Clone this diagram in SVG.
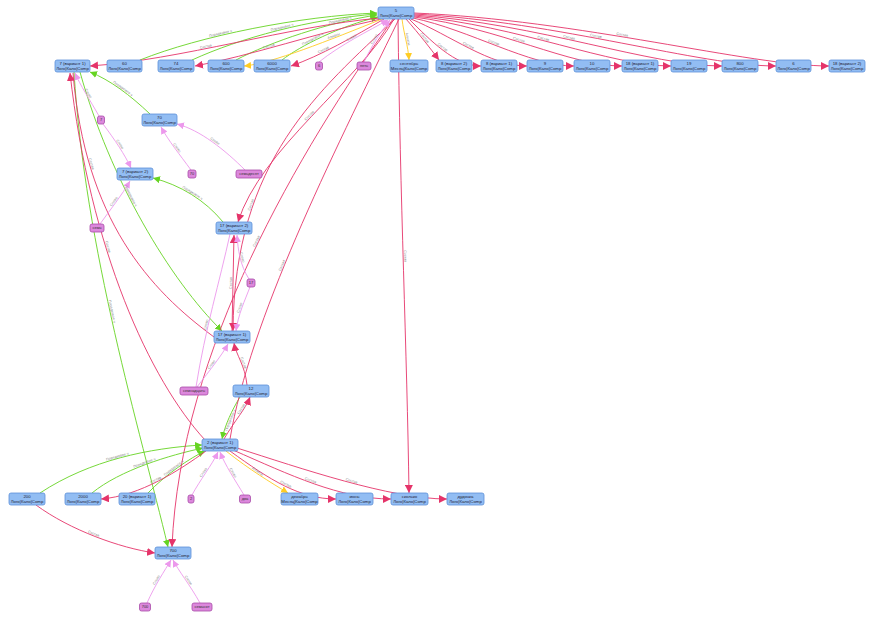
<svg xmlns="http://www.w3.org/2000/svg" width="872" height="626" viewBox="0 0 872 626">
<style>
.bg{fill:#ffffff}
.n rect{fill:#92bdf3;stroke:#5d90d8;stroke-width:0.8}
.n text{font-family:"Liberation Sans",Arial,sans-serif;font-size:4.3px;fill:#223;text-anchor:middle}
.p rect{fill:#dc88dc;stroke:#a84ca8;stroke-width:0.8}
.p text{font-family:"Liberation Sans",Arial,sans-serif;font-size:4px;fill:#333;text-anchor:middle}
.e path{fill:none;stroke-width:0.9}
.r{stroke:#e5346a}
.g{stroke:#66d422}
.y{stroke:#ffcc22}
.v{stroke:#ec98ec}
.lbl{font-family:"Liberation Sans",Arial,sans-serif;font-size:3.6px;fill:#888;text-anchor:middle}
</style>
<defs>
<marker id="ar" viewBox="0 0 10 10" refX="10" refY="5" markerWidth="8" markerHeight="8" markerUnits="userSpaceOnUse" orient="auto-start-reverse"><path d="M0,0 L10,5 L0,10 z" fill="#e5346a"/></marker>
<marker id="ag" viewBox="0 0 10 10" refX="10" refY="5" markerWidth="7" markerHeight="7" markerUnits="userSpaceOnUse" orient="auto-start-reverse"><path d="M0,0 L10,5 L0,10 z" fill="#66d422"/></marker>
<marker id="ay" viewBox="0 0 10 10" refX="10" refY="5" markerWidth="7" markerHeight="7" markerUnits="userSpaceOnUse" orient="auto-start-reverse"><path d="M0,0 L10,5 L0,10 z" fill="#ffcc22"/></marker>
<marker id="av" viewBox="0 0 10 10" refX="10" refY="5" markerWidth="7" markerHeight="7" markerUnits="userSpaceOnUse" orient="auto-start-reverse"><path d="M0,0 L10,5 L0,10 z" fill="#ec98ec"/></marker>
</defs>
<rect class="bg" x="0" y="0" width="872" height="626"/>
<g id="connectors" class="e">
<path id="e1" class="g" d="M140,60 C200,36 300,16 377,13" marker-end="url(#ag)"/>
<path id="e2" class="g" d="M192,60 C240,38 310,19 377,14" marker-end="url(#ag)"/>
<path id="e3" class="g" d="M236,60 C270,42 330,22 377,15" marker-end="url(#ag)"/>
<path id="e4" class="g" d="M282,60 C300,46 340,26 378,17" marker-end="url(#ag)"/>
<path id="e5" class="g" d="M90,72 C110,80 130,95 150,114" marker-start="url(#ag)"/>
<path id="e6" class="g" d="M153,178 C180,185 205,200 223,222" marker-start="url(#ag)"/>
<path id="e7" class="g" d="M80,72 C110,180 170,280 222,331" marker-end="url(#ag)"/>
<path id="e8" class="g" d="M74,72 C85,250 140,430 168,547" marker-end="url(#ag)"/>
<path id="e9" class="g" d="M40,493 C90,460 150,448 202,445" marker-end="url(#ag)"/>
<path id="e10" class="g" d="M92,493 C120,470 170,455 203,448" marker-end="url(#ag)"/>
<path id="e11" class="g" d="M148,493 C165,475 190,458 205,451" marker-end="url(#ag)"/>
<path id="e12" class="g" d="M222,439 C225,425 232,410 240,397" marker-start="url(#ag)"/>
<path id="e13" class="r" d="M90,66 C180,60 290,26 380,18" marker-start="url(#ar)"/>
<path id="e14" class="r" d="M195,66 C250,56 320,32 381,19" marker-start="url(#ar)"/>
<path id="e15" class="r" d="M291,66 C320,56 355,36 384,19" marker-start="url(#ar)"/>
<path id="e16" class="r" d="M406,19 C420,35 430,48 439,60" marker-end="url(#ar)"/>
<path id="e17" class="r" d="M409,19 C430,40 455,66 481,66" marker-end="url(#ar)"/>
<path id="e18" class="r" d="M411,19 C450,35 490,66 527,66" marker-end="url(#ar)"/>
<path id="e19" class="r" d="M413,18 C470,30 530,66 574,66" marker-end="url(#ar)"/>
<path id="e20" class="r" d="M414,17 C500,28 570,66 622,66" marker-end="url(#ar)"/>
<path id="e21" class="r" d="M414,16 C520,26 610,66 671,66" marker-end="url(#ar)"/>
<path id="e22" class="r" d="M414,15 C540,24 650,66 722,66" marker-end="url(#ar)"/>
<path id="e23" class="r" d="M414,14 C560,22 700,66 776,66" marker-end="url(#ar)"/>
<path id="e24" class="r" d="M414,13 C580,20 750,66 829,66" marker-end="url(#ar)"/>
<path id="e25" class="r" d="M238,222 C260,150 360,80 394,19" marker-start="url(#ar)"/>
<path id="e26" class="r" d="M233,331 C234,160 320,90 395,19" marker-start="url(#ar)"/>
<path id="e27" class="r" d="M172,547 C180,350 300,150 393,19" marker-start="url(#ar)"/>
<path id="e28" class="r" d="M398,19 C400,200 407,350 409,493" marker-end="url(#ar)"/>
<path id="e29" class="r" d="M230,439 C250,320 330,160 399,19"/>
<path id="e30" class="r" d="M232,331 L234,235" marker-end="url(#ar)"/>
<path id="e31" class="r" d="M234,343 C236,355 245,365 247,385" marker-start="url(#ar)"/>
<path id="e32" class="r" d="M224,439 C235,420 245,410 250,397" marker-end="url(#ar)"/>
<path id="e33" class="r" d="M70,73 C90,250 150,380 205,440" marker-start="url(#ar)"/>
<path id="e34" class="r" d="M73,73 C85,220 150,290 214,337"/>
<path id="e35" class="r" d="M101,499 C140,496 180,470 206,451" marker-start="url(#ar)"/>
<path id="e36" class="r" d="M36,505 C70,530 120,548 155,553" marker-end="url(#ar)"/>
<path id="e37" class="r" d="M230,451 C270,480 300,499 336,499" marker-end="url(#ar)"/>
<path id="e38" class="r" d="M233,450 C290,475 340,499 391,499" marker-end="url(#ar)"/>
<path id="e39" class="r" d="M237,448 C300,468 390,499 447,499" marker-end="url(#ar)"/>
<path id="e40" class="y" d="M244,66 C270,64 330,40 382,19" marker-start="url(#ay)"/>
<path id="e41" class="y" d="M402,19 C404,35 408,45 409,60" marker-end="url(#ay)"/>
<path id="e42" class="y" d="M226,451 C250,470 270,482 288,493" marker-end="url(#ay)"/>
<path id="e43" class="v" d="M319,62 C340,45 370,30 388,20" marker-end="url(#av)"/>
<path id="e44" class="v" d="M364,62 C372,45 382,30 390,20" marker-end="url(#av)"/>
<path id="e45" class="v" d="M75,73 C80,85 90,100 99,116" marker-start="url(#av)"/>
<path id="e46" class="v" d="M103,124 C115,140 125,155 131,168" marker-end="url(#av)"/>
<path id="e47" class="v" d="M100,224 C110,210 122,195 130,181" marker-end="url(#av)"/>
<path id="e48" class="v" d="M161,127 C168,140 180,155 191,170" marker-start="url(#av)"/>
<path id="e49" class="v" d="M177,124 C200,130 225,150 245,170" marker-start="url(#av)"/>
<path id="e50" class="v" d="M237,235 C238,250 240,265 249,279" marker-start="url(#av)"/>
<path id="e51" class="v" d="M236,331 C238,315 245,300 250,287" marker-start="url(#av)"/>
<path id="e52" class="v" d="M197,387 C210,370 222,355 228,344" marker-end="url(#av)"/>
<path id="e53" class="v" d="M196,387 C205,330 220,280 230,234"/>
<path id="e54" class="v" d="M192,495 C200,480 212,465 218,452" marker-end="url(#av)"/>
<path id="e55" class="v" d="M220,452 C225,465 235,480 244,495" marker-start="url(#av)"/>
<path id="e56" class="v" d="M147,603 C155,585 165,570 171,560" marker-end="url(#av)"/>
<path id="e57" class="v" d="M173,560 C178,570 190,585 200,603" marker-start="url(#av)"/>
</g>
<g id="edge-labels" class="lbl">
<text dy="-1"><textPath href="#e1" startOffset="35%">Порядковое ч</textPath></text>
<text dy="-1"><textPath href="#e2" startOffset="50%">Порядковое ч</textPath></text>
<text dy="-1"><textPath href="#e3" startOffset="75%">Порядковое ч</textPath></text>
<text dy="-1"><textPath href="#e4" startOffset="35%">Порядковое ч</textPath></text>
<text dy="-1"><textPath href="#e5" startOffset="50%">Порядковое ч</textPath></text>
<text dy="-1"><textPath href="#e6" startOffset="50%">Порядковое ч</textPath></text>
<text dy="-1"><textPath href="#e7" startOffset="45%">Порядковое ч</textPath></text>
<text dy="-1"><textPath href="#e8" startOffset="50%">Порядковое ч</textPath></text>
<text dy="-1"><textPath href="#e9" startOffset="50%">Порядковое ч</textPath></text>
<text dy="-1"><textPath href="#e10" startOffset="50%">Порядковое ч</textPath></text>
<text dy="-1"><textPath href="#e11" startOffset="50%">Порядковое ч</textPath></text>
<text dy="3"><textPath href="#e12" startOffset="45%">Порядковое ч</textPath></text>
<text dy="-1"><textPath href="#e13" startOffset="40%">Состав</textPath></text>
<text dy="-1"><textPath href="#e14" startOffset="40%">Состав</textPath></text>
<text dy="-1"><textPath href="#e15" startOffset="35%">Состав</textPath></text>
<text dy="-1"><textPath href="#e16" startOffset="50%">Состав</textPath></text>
<text dy="-1"><textPath href="#e17" startOffset="50%">Состав</textPath></text>
<text dy="-1"><textPath href="#e18" startOffset="50%">Состав</textPath></text>
<text dy="-1"><textPath href="#e19" startOffset="50%">Состав</textPath></text>
<text dy="-1"><textPath href="#e20" startOffset="50%">Состав</textPath></text>
<text dy="-1"><textPath href="#e21" startOffset="50%">Состав</textPath></text>
<text dy="-1"><textPath href="#e22" startOffset="50%">Состав</textPath></text>
<text dy="-1"><textPath href="#e23" startOffset="50%">Состав</textPath></text>
<text dy="-1"><textPath href="#e24" startOffset="50%">Состав</textPath></text>
<text dy="-1"><textPath href="#e25" startOffset="50%">Состав</textPath></text>
<text dy="-1"><textPath href="#e26" startOffset="35%">Состав</textPath></text>
<text dy="-1"><textPath href="#e27" startOffset="55%">Состав</textPath></text>
<text dy="-1"><textPath href="#e28" startOffset="50%">Состав</textPath></text>
<text dy="-1"><textPath href="#e29" startOffset="40%">Состав</textPath></text>
<text dy="-1"><textPath href="#e30" startOffset="50%">Состав</textPath></text>
<text dy="-1"><textPath href="#e31" startOffset="50%">Состав</textPath></text>
<text dy="-1"><textPath href="#e32" startOffset="70%">Состав</textPath></text>
<text dy="-1"><textPath href="#e33" startOffset="45%">Состав</textPath></text>
<text dy="-1"><textPath href="#e34" startOffset="30%">Состав</textPath></text>
<text dy="-1"><textPath href="#e35" startOffset="50%">Состав</textPath></text>
<text dy="-1"><textPath href="#e36" startOffset="50%">Состав</textPath></text>
<text dy="-1"><textPath href="#e37" startOffset="55%">Состав</textPath></text>
<text dy="-1"><textPath href="#e38" startOffset="50%">Состав</textPath></text>
<text dy="-1"><textPath href="#e39" startOffset="55%">Состав</textPath></text>
<text dy="-1"><textPath href="#e40" startOffset="65%">Алиасы</textPath></text>
<text dy="-1"><textPath href="#e41" startOffset="50%">Алиасы</textPath></text>
<text dy="-1"><textPath href="#e42" startOffset="50%">Алиасы</textPath></text>
<text dy="-1"><textPath href="#e43" startOffset="50%">Слово</textPath></text>
<text dy="-1"><textPath href="#e44" startOffset="50%">Слово</textPath></text>
<text dy="-1"><textPath href="#e45" startOffset="50%">Слово</textPath></text>
<text dy="-1"><textPath href="#e46" startOffset="50%">Слово</textPath></text>
<text dy="-1"><textPath href="#e47" startOffset="50%">Слово</textPath></text>
<text dy="-1"><textPath href="#e48" startOffset="50%">Слово</textPath></text>
<text dy="-1"><textPath href="#e49" startOffset="50%">Слово</textPath></text>
<text dy="-1"><textPath href="#e50" startOffset="50%">Слово</textPath></text>
<text dy="-1"><textPath href="#e51" startOffset="50%">Слово</textPath></text>
<text dy="-1"><textPath href="#e52" startOffset="50%">Слово</textPath></text>
<text dy="-1"><textPath href="#e53" startOffset="40%">Слово</textPath></text>
<text dy="-1"><textPath href="#e54" startOffset="50%">Слово</textPath></text>
<text dy="-1"><textPath href="#e55" startOffset="50%">Слово</textPath></text>
<text dy="-1"><textPath href="#e56" startOffset="50%">Слово</textPath></text>
<text dy="-1"><textPath href="#e57" startOffset="50%">Слово</textPath></text>
</g>
<g id="n-5" class="n"><rect x="378" y="7" width="36" height="12" rx="2"/><text x="396" y="12">5</text><text x="396" y="16.8">Лого|Кало|Comp</text></g>
<g id="n-7v1" class="n"><rect x="55" y="60" width="35" height="12" rx="2"/><text x="72.5" y="65">7 (вариант 1)</text><text x="72.5" y="69.8">Лого|Кало|Comp</text></g>
<g id="n-60" class="n"><rect x="107" y="60" width="35" height="12" rx="2"/><text x="124.5" y="65">60</text><text x="124.5" y="69.8">Лого|Кало|Comp</text></g>
<g id="n-74" class="n"><rect x="158" y="60" width="36" height="12" rx="2"/><text x="176" y="65">74</text><text x="176" y="69.8">Лого|Кало|Comp</text></g>
<g id="n-600" class="n"><rect x="208" y="60" width="36" height="12" rx="2"/><text x="226" y="65">600</text><text x="226" y="69.8">Лого|Кало|Comp</text></g>
<g id="n-6000" class="n"><rect x="254" y="60" width="36" height="12" rx="2"/><text x="272" y="65">6000</text><text x="272" y="69.8">Лого|Кало|Comp</text></g>
<g id="n-sep" class="n"><rect x="390" y="60" width="38" height="12" rx="2"/><text x="409" y="65">сентябрь</text><text x="409" y="69.8">Месяц|Кало|Comp</text></g>
<g id="n-8v2" class="n"><rect x="436" y="60" width="36" height="12" rx="2"/><text x="454" y="65">8 (вариант 2)</text><text x="454" y="69.8">Лого|Кало|Comp</text></g>
<g id="n-8v1" class="n"><rect x="481" y="60" width="36" height="12" rx="2"/><text x="499" y="65">8 (вариант 1)</text><text x="499" y="69.8">Лого|Кало|Comp</text></g>
<g id="n-9" class="n"><rect x="527" y="60" width="36" height="12" rx="2"/><text x="545" y="65">9</text><text x="545" y="69.8">Лого|Кало|Comp</text></g>
<g id="n-10" class="n"><rect x="574" y="60" width="36" height="12" rx="2"/><text x="592" y="65">10</text><text x="592" y="69.8">Лого|Кало|Comp</text></g>
<g id="n-18v1" class="n"><rect x="622" y="60" width="36" height="12" rx="2"/><text x="640" y="65">18 (вариант 1)</text><text x="640" y="69.8">Лого|Кало|Comp</text></g>
<g id="n-19" class="n"><rect x="671" y="60" width="36" height="12" rx="2"/><text x="689" y="65">19</text><text x="689" y="69.8">Лого|Кало|Comp</text></g>
<g id="n-800" class="n"><rect x="722" y="60" width="36" height="12" rx="2"/><text x="740" y="65">800</text><text x="740" y="69.8">Лого|Кало|Comp</text></g>
<g id="n-6" class="n"><rect x="776" y="60" width="35" height="12" rx="2"/><text x="793.5" y="65">6</text><text x="793.5" y="69.8">Лого|Кало|Comp</text></g>
<g id="n-18v2" class="n"><rect x="829" y="60" width="36" height="12" rx="2"/><text x="847" y="65">18 (вариант 2)</text><text x="847" y="69.8">Лого|Кало|Comp</text></g>
<g id="n-70" class="n"><rect x="142" y="114" width="35" height="12" rx="2"/><text x="159.5" y="119">70</text><text x="159.5" y="123.8">Лого|Кало|Comp</text></g>
<g id="n-7v2" class="n"><rect x="117" y="168" width="36" height="12" rx="2"/><text x="135" y="173">7 (вариант 2)</text><text x="135" y="177.8">Лого|Кало|Comp</text></g>
<g id="n-17v2" class="n"><rect x="216" y="222" width="36" height="12" rx="2"/><text x="234" y="227">17 (вариант 2)</text><text x="234" y="231.8">Лого|Кало|Comp</text></g>
<g id="n-17v1" class="n"><rect x="214" y="331" width="36" height="12" rx="2"/><text x="232" y="336">17 (вариант 1)</text><text x="232" y="340.8">Лого|Кало|Comp</text></g>
<g id="n-12" class="n"><rect x="233" y="385" width="36" height="12" rx="2"/><text x="251" y="390">12</text><text x="251" y="394.8">Лого|Кало|Comp</text></g>
<g id="n-2v1" class="n"><rect x="202" y="439" width="36" height="12" rx="2"/><text x="220" y="444">2 (вариант 1)</text><text x="220" y="448.8">Лого|Кало|Comp</text></g>
<g id="n-200" class="n"><rect x="9" y="493" width="36" height="12" rx="2"/><text x="27" y="498">200</text><text x="27" y="502.8">Лого|Кало|Comp</text></g>
<g id="n-2000" class="n"><rect x="65" y="493" width="36" height="12" rx="2"/><text x="83" y="498">2000</text><text x="83" y="502.8">Лого|Кало|Comp</text></g>
<g id="n-20v1" class="n"><rect x="119" y="493" width="36" height="12" rx="2"/><text x="137" y="498">20 (вариант 1)</text><text x="137" y="502.8">Лого|Кало|Comp</text></g>
<g id="n-dec" class="n"><rect x="281" y="493" width="37" height="12" rx="2"/><text x="299.5" y="498">декабрь</text><text x="299.5" y="502.8">Месяц|Кало|Comp</text></g>
<g id="n-jun" class="n"><rect x="336" y="493" width="37" height="12" rx="2"/><text x="354.5" y="498">июнь</text><text x="354.5" y="502.8">Лого|Кало|Comp</text></g>
<g id="n-skl" class="n"><rect x="391" y="493" width="37" height="12" rx="2"/><text x="409.5" y="498">сколько</text><text x="409.5" y="502.8">Лого|Кало|Comp</text></g>
<g id="n-dud" class="n"><rect x="447" y="493" width="37" height="12" rx="2"/><text x="465.5" y="498">дудочка</text><text x="465.5" y="502.8">Лого|Кало|Comp</text></g>
<g id="n-700" class="n"><rect x="155" y="547" width="36" height="12" rx="2"/><text x="173" y="552">700</text><text x="173" y="556.8">Лого|Кало|Comp</text></g>
<g id="w-6" class="p"><rect x="315.5" y="62" width="7" height="8" rx="2"/><text x="319" y="67.4">6</text></g>
<g id="w-pyat" class="p"><rect x="357" y="62" width="14" height="8" rx="2"/><text x="364" y="67.4">пять</text></g>
<g id="w-7" class="p"><rect x="97.5" y="116" width="7" height="8" rx="2"/><text x="101" y="121.4">7</text></g>
<g id="w-70" class="p"><rect x="188" y="170" width="8" height="8" rx="2"/><text x="192" y="175.4">70</text></g>
<g id="w-70s" class="p"><rect x="236" y="170" width="26" height="8" rx="2"/><text x="249" y="175.4">семьдесят</text></g>
<g id="w-sem" class="p"><rect x="90" y="224" width="14" height="8" rx="2"/><text x="97" y="229.4">семь</text></g>
<g id="w-17" class="p"><rect x="247" y="279" width="8" height="8" rx="2"/><text x="251" y="284.4">17</text></g>
<g id="w-17s" class="p"><rect x="180" y="387" width="28" height="8" rx="2"/><text x="194" y="392.4">семнадцать</text></g>
<g id="w-2" class="p"><rect x="188" y="495" width="6" height="8" rx="2"/><text x="191" y="500.4">2</text></g>
<g id="w-dva" class="p"><rect x="239.5" y="495" width="11" height="8" rx="2"/><text x="245" y="500.4">два</text></g>
<g id="w-700" class="p"><rect x="139.5" y="603" width="11" height="8" rx="2"/><text x="145" y="608.4">700</text></g>
<g id="w-700s" class="p"><rect x="192" y="603" width="20" height="8" rx="2"/><text x="202" y="608.4">семьсот</text></g>
</svg>
